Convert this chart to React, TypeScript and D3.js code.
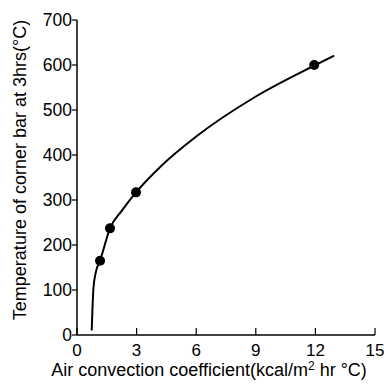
import React from 'react';
import * as d3 from 'd3';

// measured points (air convection coefficient vs corner bar temperature)
const pointX = [1.16, 1.66, 2.97, 11.94];
const pointY = [165, 237, 317, 600];

// fitted curve drawn through the data
const curveX = [0.74, 0.78, 0.83, 0.95, 1.16, 1.66, 2.25, 2.97, 4.2, 6.0, 9.0, 12.0, 12.95];
const curveY = [10, 60, 105, 140, 165, 237, 276, 317, 374, 441, 530, 600, 621];

const xTicks = [0, 3, 6, 9, 12, 15];
const yTicks = [0, 100, 200, 300, 400, 500, 600, 700];

const W = 384;
const H = 384;
const margin = { left: 77, right: 9, top: 20, bottom: 49 };

const FONT = 'Liberation Sans, Arial, sans-serif';

export default function App() {
  const x = d3.scaleLinear().domain([0, 15]).range([margin.left, W - margin.right]);
  const y = d3.scaleLinear().domain([0, 700]).range([H - margin.bottom, margin.top]);

  const line = d3
    .line<number>()
    .x((_, i) => x(curveX[i]))
    .y((_, i) => y(curveY[i]))
    .curve(d3.curveMonotoneX);

  const x0 = x(0);
  const y0 = y(0);

  return (
    <svg
      width={W}
      height={H}
      style={{ position: 'absolute', left: 0, top: 0, background: '#fff' }}
      fontFamily={FONT}
    >
      {/* axes */}
      <line x1={x0} x2={x0} y1={y(700)} y2={y0} stroke="#000" strokeWidth={1.5} />
      <line x1={x0} x2={x(15)} y1={y0} y2={y0} stroke="#000" strokeWidth={1.5} />

      {yTicks.map(t => (
        <g key={'y' + t}>
          <line x1={x0 - 5} x2={x0} y1={y(t)} y2={y(t)} stroke="#000" strokeWidth={1.2} />
          <text x={x0 - 5} y={y(t)} dy="0.36em" textAnchor="end" fontSize={17.5}>
            {t}
          </text>
        </g>
      ))}

      {xTicks.map(t => (
        <g key={'x' + t}>
          <line x1={x(t)} x2={x(t)} y1={y0} y2={y0 - 7} stroke="#000" strokeWidth={1.2} />
          <text x={x(t)} y={356} textAnchor="middle" fontSize={17}>
            {t}
          </text>
        </g>
      ))}

      {/* curve and points */}
      <path d={line(curveX) || ''} fill="none" stroke="#000" strokeWidth={2} />
      {pointX.map((px, i) => (
        <circle key={i} cx={x(px)} cy={y(pointY[i])} r={5} fill="#000" />
      ))}

      {/* axis titles */}
      <text x={209} y={376} textAnchor="middle" fontSize={18}>
        Air convection coefficient(kcal/m
        <tspan dy="-6" fontSize={12}>2</tspan>
        <tspan dy="6"> hr °C)</tspan>
      </text>
      <text
        transform="translate(20,170) rotate(-90)"
        textAnchor="middle"
        dy="0.36em"
        fontSize={18}
      >
        Temperature of corner bar at 3hrs(°C)
      </text>
    </svg>
  );
}
